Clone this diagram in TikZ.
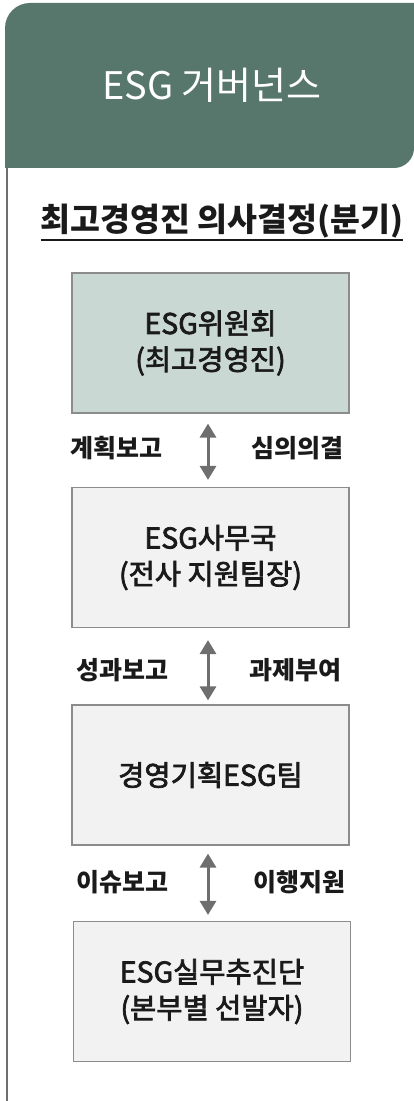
\documentclass[tikz,border=0pt]{standalone}
\usepackage{fontspec}
\newfontfamily\kr{Noto Sans CJK KR}
\newfontfamily\krmed[FakeBold=2.5]{Noto Sans CJK KR}
\usetikzlibrary{arrows.meta,calc}
\definecolor{hdrgreen}{HTML}{58776C}
\definecolor{topfill}{HTML}{C9D8D3}
\definecolor{boxfill}{HTML}{F2F2F2}
\definecolor{boxline}{HTML}{8C8C8C}
\definecolor{arrowgray}{HTML}{6E6E6E}
\definecolor{txt}{HTML}{1A1A1A}
\tikzset{
  orgbox/.style={draw=boxline, line width=1.2pt, fill=boxfill, minimum width=277pt, minimum height=140pt, inner sep=0pt, align=center, font=\krmed\fontsize{28.5}{36}\selectfont, text=txt},
  flowarrow/.style={draw=arrowgray, line width=3pt, {Triangle[width=16pt,length=14pt]}-{Triangle[width=16pt,length=14pt]}},
  lbl/.style={font=\kr\bfseries\fontsize{25}{28}\selectfont, text=txt, inner sep=0pt}
}
\begin{document}
\begin{tikzpicture}[x=1pt,y=1pt]
\useasboundingbox (0,0) rectangle (414,1101);
\fill[white] (0,0) rectangle (414,1101);
% header
\fill[hdrgreen] (5,933) -- (5,1073) arc[start angle=180,end angle=90,radius=25pt] -- (414,1098) -- (414,953) arc[start angle=0,end angle=-90,radius=20pt] -- cycle;
\node[text=white, font=\kr\fontsize{38}{40}\selectfont, inner sep=0pt] (title) at (212,1016) {ESG 거버넌스};
% left rule
\coordinate (lt) at (7,933);
\coordinate (lb) at (7,0);
\draw[arrowgray, line width=1.3pt] (lt) -- (lb);
% section heading
\node[font=\kr\bfseries\fontsize{32.5}{34}\selectfont, text=txt, inner sep=0pt, anchor=base] (head) at (222,869) {최고경영진 의사결정(분기)};
\draw[txt, line width=2pt] ($(head.base west)+(0,-8)$) -- ($(head.base east)+(0,-8)$);
% boxes
\node[orgbox, fill=topfill] (b1) at (210.5,758) {ESG위원회\\(최고경영진)};
\node[orgbox] (b2) at (210.5,543.5) {ESG사무국\\(전사 지원팀장)};
\node[orgbox] (b3) at (210.5,326) {경영기획ESG팀};
\node[orgbox] (b4) at (212,109.5) {ESG실무추진단\\(본부별 선발자)};
% arrows
\draw[flowarrow] ($(b1.south)+(-2.5,-10)$) -- ($(b2.north)+(-2.5,7)$);
\draw[flowarrow] ($(b2.south)+(-2.5,-12)$) -- ($(b3.north)+(-2.5,4)$);
\draw[flowarrow] ($(b3.south)+(-2.5,-8)$) -- ($(b4.north)+(-4,6)$);
% labels
\node[lbl] (l1) at (116,653) {계획보고};
\node[lbl] (r1) at (297,653) {심의의결};
\node[lbl] (l2) at (122,431) {성과보고};
\node[lbl] (r2) at (295,431) {과제부여};
\node[lbl] (l3) at (122,219) {이슈보고};
\node[lbl] (r3) at (299,219) {이행지원};
\end{tikzpicture}
\end{document}
